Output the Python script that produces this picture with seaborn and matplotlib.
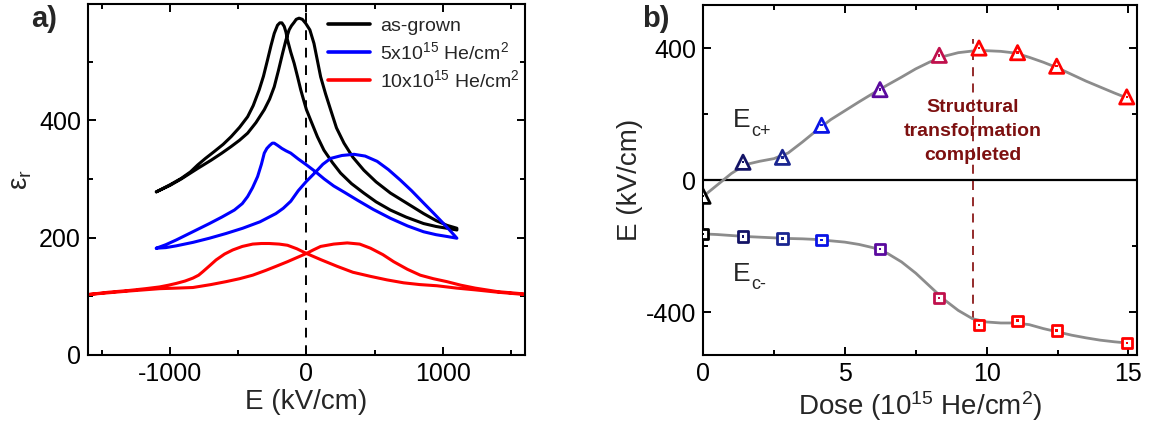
import pandas as pd
import matplotlib
matplotlib.use("Agg")
import matplotlib.pyplot as plt
from matplotlib.ticker import MultipleLocator
from matplotlib.lines import Line2D
import seaborn as sns

# ---- panel a: permittivity loops, each loop = forward branch + return branch
grown_E = [-1100, -1000, -917, -850, -796, -740, -674, -610, -552, -490, -431, -390, -346, -315, -285, -260, -236, -212,
           -195, -180, -163, -150, -139, -115, -90, -65, -42, -20, 0, 31, 80, 128, 190, 250, 330, 420, 510, 615, 730,
           858, 950, 1029, 1102,
           1102, 1029, 950, 858, 740, 615, 510, 420, 340, 275, 220, 177, 140, 104, 80, 55, 25, -5, -30, -54, -75, -90,
           -110, -127, -150, -175, -205, -236, -270, -309, -370, -431, -490, -553, -620, -698, -796, -850, -917, -1000, -1100]
grown_eps = [278, 290, 301, 312, 324, 335, 347, 359, 372, 388, 406, 425, 452, 475, 503, 527, 548, 562,
             566, 566, 560, 550, 537, 516, 497, 474, 452, 434, 418, 400, 372, 349, 328, 310, 292, 276, 261, 247, 235,
             224, 219, 216, 213,
             216, 221, 229, 241, 258, 276, 295, 315, 337, 361, 387, 418, 445, 474, 502, 531, 554, 565, 572, 574, 572, 567,
             561, 554, 537, 514, 485, 457, 436, 418, 396, 378, 366, 355, 344, 332, 318, 310, 300, 289, 278]

dose5_E = [-1100, -1030, -954, -850, -711, -620, -528, -470, -431, -395, -358, -330, -309, -290, -270, -250, -236, -210,
           -180, -150, -115, -60, 0, 68, 130, 200, 280, 372, 490, 615, 740, 858, 950, 1029, 1102,
           1060, 1004, 930, 858, 770, 688, 600, 518, 430, 348, 260, 177, 120, 68, 30, 0, -60, -115, -170, -224, -340,
           -467, -590, -711, -830, -954, -1030, -1100]
dose5_eps = [182, 188, 196, 208, 224, 235, 247, 258, 270, 285, 304, 325, 344, 352, 357, 361, 361, 357,
             352, 348, 344, 334, 324, 312, 300, 288, 277, 264, 248, 233, 220, 210, 205, 202, 199,
             210, 224, 242, 259, 280, 298, 316, 330, 339, 342, 340, 335, 325, 312, 303, 296, 280, 262, 250, 241, 227,
             216, 207, 199, 192, 186, 183, 182]

dose10_E = [-1600, -1450, -1300, -1180, -1076, -1010, -954, -890, -832, -790, -759, -710, -662, -600, -540, -470, -394,
            -330, -273, -200, -139, -70, 0, 110, 226, 340, 469, 590, 712, 830, 956, 1100, 1236, 1400, 1600,
            1600, 1400, 1236, 1130, 1029, 930, 834, 740, 639, 560, 469, 390, 299, 200, 104, 50, 0, -70, -139, -224,
            -300, -394, -490, -589, -700, -832, -950, -1076, -1300, -1450, -1600]
dose10_eps = [103, 107, 110, 113, 116, 119, 122, 126, 131, 136, 142, 152, 162, 172, 179, 185, 189,
              190, 190, 189, 187, 181, 173, 162, 151, 141, 134, 128, 123, 120, 118, 114, 111, 107, 103,
              104, 108, 114, 119, 125, 130, 136, 146, 159, 171, 182, 189, 191, 189, 185, 179, 173, 166, 159, 151,
              144, 136, 130, 125, 120, 115, 114, 113, 109, 106, 103]

sample_labels = ["as-grown", "5x10$^{15}$ He/cm$^{2}$", "10x10$^{15}$ He/cm$^{2}$"]
sample_colors = ["black", "#0000ff", "#ff0000"]

# ---- panel b: coercive fields vs dose
dose = [0.0, 1.41, 2.8, 4.18, 6.24, 8.33, 9.73, 11.09, 12.47, 14.94]
ec_plus = [-49, 54, 69, 166, 274, 378, 400, 386, 345, 252]
ec_minus = [-163, -171, -177, -182, -208, -358, -440, -426, -456, -494]
point_colors = ["#000000", "#141466", "#1a2590", "#0a14e6", "#5a0a9e", "#c0104c",
                "#ff0000", "#ff0000", "#ff0000", "#ff0000"]

# guide curves (grey)
fit_dose = [0, 0.5, 1, 1.5, 2, 2.5, 3, 3.5, 4, 4.5, 5, 5.5, 6, 6.5, 7, 7.5, 8, 8.5, 9, 9.5,
            10, 10.5, 11, 11.5, 12, 12.5, 13, 13.5, 14, 14.5, 15]
fit_plus = [-50, -15, 20, 47, 57, 65, 82, 115, 150, 183, 210, 237, 263, 288, 312, 337, 358, 375, 386, 391,
            392, 390, 385, 372, 357, 340, 320, 300, 282, 264, 247]
fit_minus = [-163, -165, -168, -171, -173, -175, -177, -178, -180, -184, -188, -195, -205, -222, -248, -282, -322, -362, -395, -420,
             -430, -433, -433, -438, -450, -460, -470, -478, -485, -490, -494]

transition_dose = 9.53

sns.set_style("ticks")
plt.rcParams["font.family"] = ["Liberation Sans", "DejaVu Sans"]
plt.rcParams["mathtext.fontset"] = "custom"
plt.rcParams["mathtext.rm"] = "Liberation Sans"
plt.rcParams["mathtext.it"] = "Liberation Sans:italic"
plt.rcParams["axes.unicode_minus"] = False

fig = plt.figure(figsize=(11.51, 4.29), dpi=100)
ax1 = fig.add_axes([0.0765, 0.1725, 0.3795, 0.818])
ax2 = fig.add_axes([0.6108, 0.1725, 0.377, 0.8155])

# panel a
frames = []
for lab, xs, ys in zip(sample_labels, [grown_E, dose5_E, dose10_E], [grown_eps, dose5_eps, dose10_eps]):
    frames.append(pd.DataFrame({"E": xs, "eps": ys, "sample": lab}))
loops = pd.concat(frames, ignore_index=True)
sns.lineplot(data=loops, x="E", y="eps", hue="sample", units="sample", estimator=None, sort=False,
             palette=dict(zip(sample_labels, sample_colors)), linewidth=2.2, legend=False, ax=ax1)
ax1.axvline(0, color="black", ls=(0, (5, 4)), lw=1.4, zorder=1)
ax1.set_xlim(-1600, 1600)
ax1.set_ylim(0, 598)
ax1.xaxis.set_major_locator(MultipleLocator(1000))
ax1.xaxis.set_minor_locator(MultipleLocator(500))
ax1.yaxis.set_major_locator(MultipleLocator(200))
ax1.yaxis.set_minor_locator(MultipleLocator(100))
ax1.set_xlabel("E (kV/cm)", fontsize=20, labelpad=2)
ax1.set_ylabel("ε$_{\\rm r}$", fontsize=20, labelpad=4)
handles = [Line2D([], [], color=c, lw=2.6) for c in sample_colors]
ax1.legend(handles, sample_labels, loc="upper right", bbox_to_anchor=(1.02, 1.0), frameon=False, fontsize=14,
           handlelength=2.2, handletextpad=0.5, labelspacing=0.3, borderaxespad=0.3)
fig.text(0.027, 0.955, "a)", fontsize=21, fontweight="bold", va="center")

# panel b
fits = pd.concat([pd.DataFrame({"dose": fit_dose, "E": fit_plus, "branch": "plus"}),
                  pd.DataFrame({"dose": fit_dose, "E": fit_minus, "branch": "minus"})], ignore_index=True)
sns.lineplot(data=fits, x="dose", y="E", units="branch", estimator=None, sort=False,
             color="#8c8c8c", linewidth=2, ax=ax2, zorder=2)
ax2.axhline(0, color="black", lw=1.6, zorder=1)
ax2.plot([transition_dose, transition_dose], [-425, 428], color="#8b1a1a", ls=(0, (5, 4)), lw=1.3, zorder=1)

sns.scatterplot(x=dose, y=ec_plus, marker="^", s=105, facecolor="white", edgecolor=point_colors,
                linewidth=2, ax=ax2, zorder=3)
sns.scatterplot(x=dose, y=ec_minus, marker="s", s=55, facecolor="white", edgecolor=point_colors,
                linewidth=2, ax=ax2, zorder=3)
sns.scatterplot(x=dose, y=ec_plus, marker="s", s=3, color=point_colors, linewidth=0, ax=ax2, zorder=4)
sns.scatterplot(x=dose, y=ec_minus, marker="s", s=3, color=point_colors, linewidth=0, ax=ax2, zorder=4)

for yv, sub in [(181, "c+"), (-284, "c-")]:
    ax2.text(1.05, yv, "E", fontsize=19, va="center", ha="left")
    ax2.annotate(sub, xy=(1.05, yv), xytext=(13, -8), textcoords="offset points",
                 fontsize=13, va="center", ha="left")
ax2.text(9.5, 148, "Structural\ntransformation\ncompleted", color="#7d1010", fontsize=14,
         fontweight="bold", ha="center", va="center", linespacing=1.55)

ax2.set_xlim(0, 15.3)
ax2.set_ylim(-530, 530)
ax2.xaxis.set_major_locator(MultipleLocator(5))
ax2.xaxis.set_minor_locator(MultipleLocator(2.5))
ax2.yaxis.set_major_locator(MultipleLocator(400))
ax2.yaxis.set_minor_locator(MultipleLocator(200))
ax2.set_xlabel("Dose (10$^{15}$ He/cm$^{2}$)", fontsize=20, labelpad=2)
ax2.set_ylabel("E (kV/cm)", fontsize=20, labelpad=2)
fig.text(0.558, 0.955, "b)", fontsize=21, fontweight="bold", va="center")

for ax in (ax1, ax2):
    for sp in ax.spines.values():
        sp.set_linewidth(1.5)
        sp.set_color("black")
    ax.tick_params(which="both", direction="in", top=True, right=True, width=1.4, colors="black")
    ax.tick_params(which="major", length=6, labelsize=18, pad=5)
    ax.tick_params(which="minor", length=3.5)

fig.savefig("out.png", dpi=100)
